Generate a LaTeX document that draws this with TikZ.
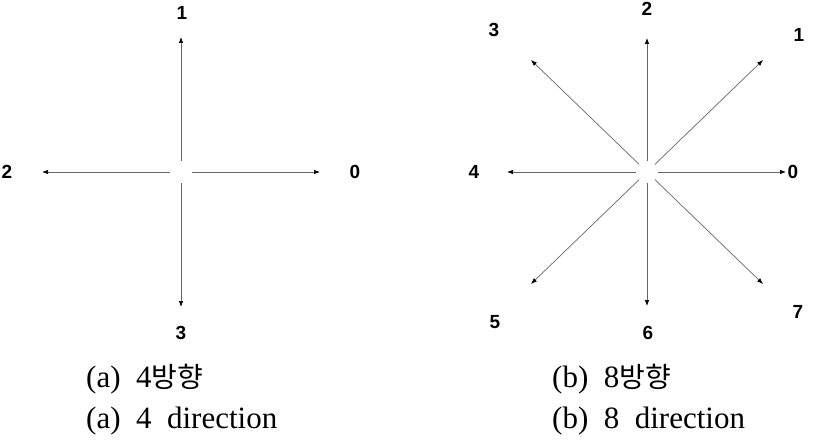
\documentclass[tikz,border=0pt]{standalone}
\usepackage{fontspec}
\setmainfont{Liberation Serif}
\newfontfamily\labelfont{Liberation Sans}
\newfontfamily\krfont{Noto Sans CJK KR}
\usepackage{tikz}
\usetikzlibrary{arrows.meta}
\tikzset{
  dirarrow/.style={draw=black!60, line width=0.7pt, shorten <=11pt,
    -{Latex[length=6pt,width=4.5pt,color=black]}},
  dirlabel/.style={font=\labelfont\bfseries\fontsize{19}{19}\selectfont, inner sep=0pt},
  caption/.style={font=\fontsize{31}{31}\selectfont, anchor=base west, inner sep=0pt}
}

\begin{document}
\begin{tikzpicture}[x=1pt,y=1pt]
      \useasboundingbox (0,0) rectangle (827,440);
      % (a) 4 directions
      \coordinate (c4) at (181,268);
      \coordinate (a0) at (320,268);
      \coordinate (a1) at (181,403);
      \coordinate (a2) at (42,268);
      \coordinate (a3) at (181,133);
      \foreach \d in {0,...,3}{\draw[dirarrow] (c4) -- (a\d);}
      \node[dirlabel] (la0) at (355,268) {0};
      \node[dirlabel] (la1) at (182,427) {1};
      \node[dirlabel] (la2) at (7,268) {2};
      \node[dirlabel] (la3) at (181,107) {3};

      % (b) 8 directions
      \coordinate (c8) at (647,268);
      \coordinate (b0) at (786,268);
      \coordinate (b1) at (763,380);
      \coordinate (b2) at (647,402);
      \coordinate (b3) at (531,380);
      \coordinate (b4) at (507,268);
      \coordinate (b5) at (531,156);
      \coordinate (b6) at (647,134);
      \coordinate (b7) at (763,156);
      \foreach \d in {0,...,7}{\draw[dirarrow] (c8) -- (b\d);}
      \node[dirlabel] (lb0) at (793,268) {0};
      \node[dirlabel] (lb1) at (799,405) {1};
      \node[dirlabel] (lb2) at (647,431) {2};
      \node[dirlabel] (lb3) at (494,410) {3};
      \node[dirlabel] (lb4) at (474,268) {4};
      \node[dirlabel] (lb5) at (495,118) {5};
      \node[dirlabel] (lb6) at (648,107) {6};
      \node[dirlabel] (lb7) at (798,128) {7};

      % captions
      \node[caption] (capa) at (86,53) {(a)~~4{\krfont\fontsize{28}{28}\selectfont 방향}};
      \node[caption] (capa2) at (86,12) {(a)~~4~~direction};
      \node[caption] (capb) at (552,53) {(b)~~8{\krfont\fontsize{28}{28}\selectfont 방향}};
      \node[caption] (capb2) at (552,12) {(b)~~8~~direction};
    \end{tikzpicture}
\end{document}
